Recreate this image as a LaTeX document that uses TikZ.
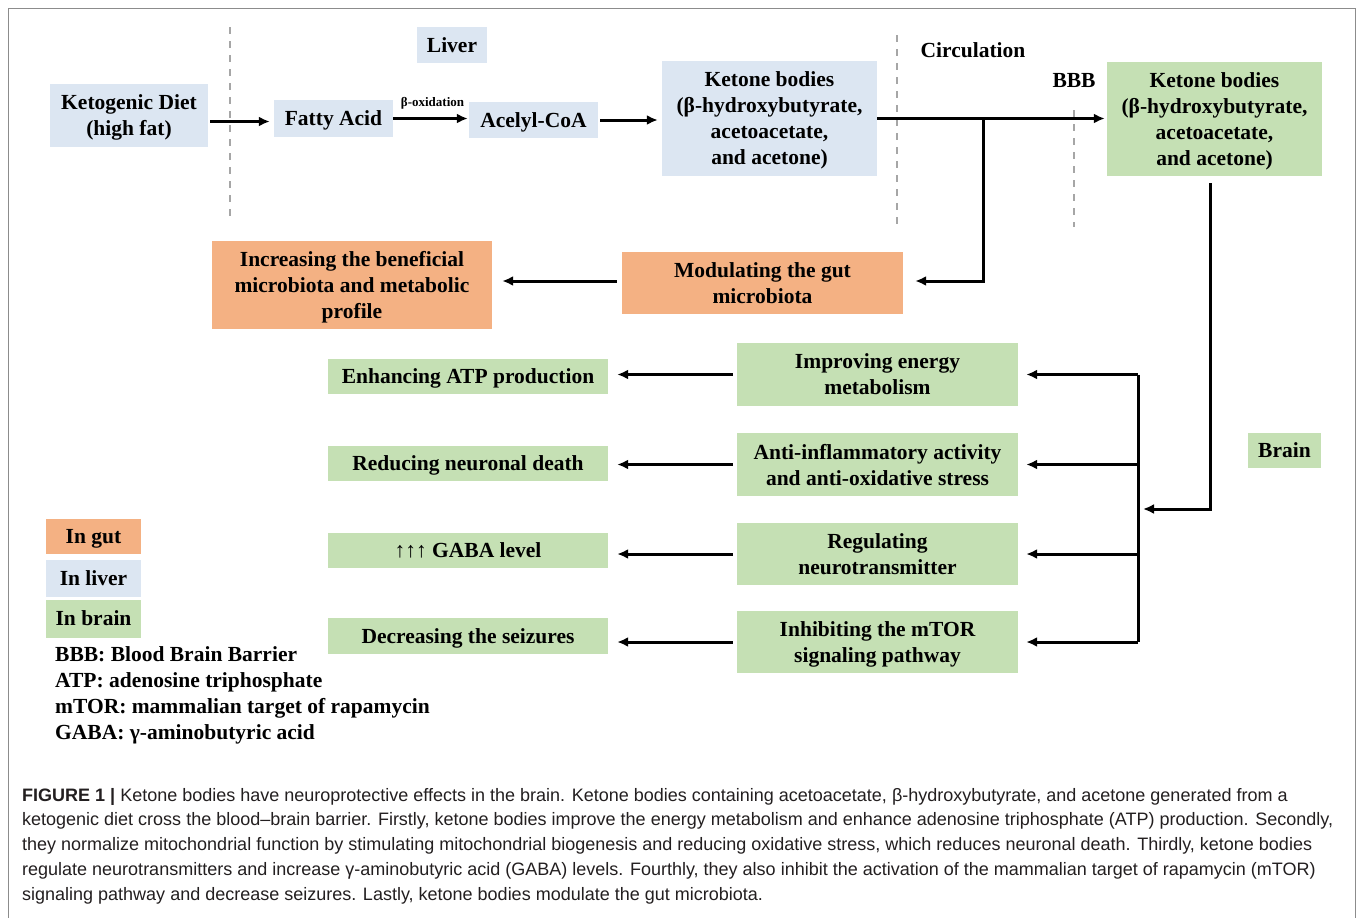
\documentclass[tikz,border=0pt]{standalone}
\usepackage{fontspec}
\setmainfont{Liberation Serif}
\newfontfamily\captionfont{Liberation Sans}
\usetikzlibrary{arrows.meta,calc}

\definecolor{liverblue}{HTML}{DCE6F2}
\definecolor{braingreen}{HTML}{C5E0B4}
\definecolor{gutorange}{HTML}{F4B183}
\definecolor{dashgray}{HTML}{A6A6A6}
\definecolor{framegray}{HTML}{8C8C8C}
\definecolor{captext}{HTML}{231F20}

\begin{document}
\begin{tikzpicture}[
        % one unit is one pixel of the figure, y pointing down
        x=1pt, y=-1pt,
        %
        every node/.style={inner sep=0pt,
            font=\fontsize{21.5}{26}\selectfont\bfseries},
        liverbox/.style={fill=liverblue, align=center, text depth=0pt},
        brainbox/.style={fill=braingreen, align=center, text depth=0pt},
        gutbox/.style={fill=gutorange, align=center, text depth=0pt},
        arr/.style={-{Latex[length=11pt,width=10pt]}, line width=3pt},
        bar/.style={line width=3pt},
        border/.style={dashgray, line width=2pt, dash pattern=on 7pt off 7pt}
    ]

        % Define the column widths of the effect boxes
        \def\effw{281}
        \def\outw{280}

        % Fix the page and draw the frame
        \fill[white] (0,0) rectangle (1360,918);
        \useasboundingbox (0,0) rectangle (1360,918);
        \draw[framegray, line width=1pt] (8,918) -- (8,8) -- (1355,8) -- (1355,918);

        % Draw the compartment borders
        \draw[border] (230,27) -- (230,218);
        \draw[border] (897,35) -- (897,227);
        \draw[border] (1074,110) -- (1074,227);

        % Compartment labels
        \node[liverbox, minimum width=70, minimum height=36] (liver) at (452,45) {Liver};
        \node (circ) at (973,50) {Circulation};
        \node (bbb) at (1074,80) {BBB};
        \node[brainbox, minimum width=73, minimum height=35] (brain) at (1284.5,450.5) {Brain};

        % Liver pathway
        \node[liverbox, minimum width=158, minimum height=63] (diet) at (129,115.5)
            {Ketogenic Diet\\(high fat)};
        \node[liverbox, minimum width=119, minimum height=37] (fatty) at (333.5,118.5)
            {Fatty Acid};
        \node[liverbox, minimum width=129, minimum height=36] (acetyl) at (533.5,120)
            {Acelyl-CoA};
        \node[liverbox, minimum width=215, minimum height=115] (kbliver) at (769.5,118.5)
            {Ketone bodies\\(β-hydroxybutyrate,\\acetoacetate,\\and acetone)};
        \node[brainbox, minimum width=215, minimum height=114] (kbbrain) at (1214.5,119)
            {Ketone bodies\\(β-hydroxybutyrate,\\acetoacetate,\\and acetone)};

        \draw[arr, shorten <=2pt, shorten >=4pt] ([yshift=-3pt]fatty.west -| diet.east) -- ([yshift=-3pt]fatty.west);
        \draw[arr, shorten >=1pt] (fatty.east) -- (fatty.east -| acetyl.west)
            node[pos=0.52, above=8pt, font=\fontsize{13}{15}\selectfont\bfseries] (boxid) {β-oxidation};
        \draw[arr, shorten <=2pt, shorten >=4pt] (acetyl.east) -- (acetyl.east -| kbliver.west);
        \draw[arr, shorten >=2pt] (kbliver.east) -- (kbliver.east -| kbbrain.west);

        % Gut
        \node[gutbox, minimum width=281, minimum height=62] (modul) at (762.5,283)
            {Modulating the gut\\microbiota};
        \node[gutbox, minimum width=280, minimum height=88] (incr) at (352,285)
            {Increasing the beneficial\\microbiota and metabolic\\profile};

        \coordinate (split) at (983,118.5);
        \draw[arr] (split) |- ([xshift=12pt,yshift=2pt]modul.east);
        \draw[arr, shorten <=5pt, shorten >=10pt] ([yshift=2pt]modul.west) -- ([yshift=2pt]modul.west -| incr.east);

        % Brain effects
        \node[brainbox, minimum width=\effw, minimum height=63] (impr) at (877.5,374.5)
            {Improving energy\\metabolism};
        \node[brainbox, minimum width=\effw, minimum height=63] (anti) at (877.5,464.5)
            {Anti-inflammatory activity\\and anti-oxidative stress};
        \node[brainbox, minimum width=\effw, minimum height=62] (regu) at (877.5,554)
            {Regulating\\neurotransmitter};
        \node[brainbox, minimum width=\effw, minimum height=62] (inhib) at (877.5,642)
            {Inhibiting the mTOR\\signaling pathway};

        \node[brainbox, minimum width=\outw, minimum height=35] (enh) at (468,376.5)
            {Enhancing ATP production};
        \node[brainbox, minimum width=\outw, minimum height=35] (red) at (468,463.5)
            {Reducing neuronal death};
        \node[brainbox, minimum width=\outw, minimum height=35] (gaba) at (468,550.5)
            {{\mdseries ↑↑↑} GABA level};
        \node[brainbox, minimum width=\outw, minimum height=36] (decr) at (468,636)
            {Decreasing the seizures};

        % Feed the brain effects
        \coordinate (drop) at (1210,183);
        \coordinate (hub) at (1138,509);
        \draw[arr] (drop) |- ([xshift=5pt]hub);
        \draw[bar] (impr.east -| hub) -- (inhib.east -| hub);
        \foreach \eff in {impr,anti,regu,inhib}
            \draw[arr, shorten >=8pt] (\eff.east -| hub) -- (\eff.east);
        \foreach \eff/\out in {impr/enh,anti/red,regu/gaba,inhib/decr}
            \draw[arr, shorten <=4pt, shorten >=9pt] (\eff.west) -- (\eff.west -| \out.east);

        % Legend
        \node[gutbox, minimum width=95, minimum height=35] (kgut) at (93.5,536) {In gut};
        \node[liverbox, minimum width=95, minimum height=37] (kliver) at (93.5,578.5) {In liver};
        \node[brainbox, minimum width=95, minimum height=38] (kbrain) at (93.5,618.5) {In brain};
        \node[anchor=west, align=left] (abbr) at (55,695)
            {BBB: Blood Brain Barrier\\ATP: adenosine triphosphate\\
             mTOR: mammalian target of rapamycin\\GABA: γ-aminobutyric acid};

        % Caption
        \node[anchor=west, align=left, text=captext,
              font=\captionfont\fontsize{18}{24.8}\selectfont] (caption) at (22,846)
            {\textbf{FIGURE 1 |} Ketone bodies have neuroprotective effects in the brain. Ketone bodies containing acetoacetate, β-hydroxybutyrate, and acetone generated from a\\
             ketogenic diet cross the blood–brain barrier. Firstly, ketone bodies improve the energy metabolism and enhance adenosine triphosphate (ATP) production. Secondly,\\
             they normalize mitochondrial function by stimulating mitochondrial biogenesis and reducing oxidative stress, which reduces neuronal death. Thirdly, ketone bodies\\
             regulate neurotransmitters and increase γ-aminobutyric acid (GABA) levels. Fourthly, they also inhibit the activation of the mammalian target of rapamycin (mTOR)\\
             signaling pathway and decrease seizures. Lastly, ketone bodies modulate the gut microbiota.};

    \end{tikzpicture}
\end{document}
